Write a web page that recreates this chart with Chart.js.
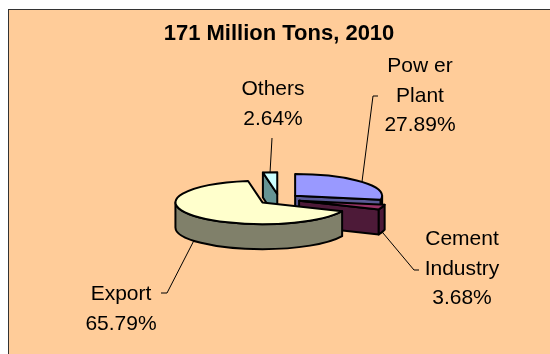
<!DOCTYPE html>
<html>
<head>
<meta charset="utf-8">
<script src="https://cdn.jsdelivr.net/npm/chart.js@4.4.1/dist/chart.umd.min.js"></script>
<style>
  html, body { margin: 0; padding: 0; background: #fff; overflow: hidden; }
  #frame { position: absolute; left: 8px; top: 9px; width: 600px; height: 400px; border: 1px solid #333; background: #FFCC99; }
  #pie { position: absolute; left: 0; top: 0; }
</style>
</head>
<body>
<div id="frame"></div>
<canvas id="pie" width="550" height="354"></canvas>
<script>
// data
const categories = ['Power Plant', 'Cement Industry', 'Export', 'Others'];
const labelLines = [['Pow er', 'Plant'], ['Cement', 'Industry'], ['Export'], ['Others']];
const shares = [27.89, 3.68, 65.79, 2.64];

// look
const topColors = ['#9999FF', '#993366', '#FFFFCC', '#CCFFFF'];
const sideColors = ['#5A5A96', '#4D1A38', '#80806A', '#669494'];
const tilt = 0.25, depth = 25, explode = 21;
const FONT = '"Liberation Sans", Arial, sans-serif';
// label block: center x, first baseline, leader elbow x/y, tick length
const labelSpots = [
  [420, 72, 373, 96, 5],
  [462, 245, 414, 270, 5],
  [121, 300, 167, 293, -6],
  [273, 95, 272, 138, 0]
];

function geom(arc) {
  const p = arc.getProps(['x', 'y', 'startAngle', 'endAngle', 'outerRadius']);
  const mid = (p.startAngle + p.endAngle) / 2;
  return {
    s: p.startAngle, e: p.endAngle, r: p.outerRadius, mid,
    vx: p.x + Math.cos(mid) * explode,
    vy: p.y + Math.sin(mid) * explode * tilt
  };
}
function rim(g, a, dy) {
  return [g.vx + Math.cos(a) * g.r, g.vy + Math.sin(a) * g.r * tilt + (dy || 0)];
}
function paint(ctx, fill) {
  ctx.closePath();
  ctx.fillStyle = fill;
  ctx.fill();
  ctx.stroke();
}
function radialFace(ctx, g, a, fill) {
  const p = rim(g, a);
  ctx.beginPath();
  ctx.moveTo(g.vx, g.vy);
  ctx.lineTo(p[0], p[1]);
  ctx.lineTo(p[0], p[1] + depth);
  ctx.lineTo(g.vx, g.vy + depth);
  paint(ctx, fill);
}

const pie3d = {
  id: 'pie3d',
  beforeDatasetsDraw(chart) {
    const ctx = chart.ctx;
    const arcs = chart.getDatasetMeta(0).data.map((el, i) => ({ i, g: geom(el) }));
    arcs.sort((a, b) => Math.sin(a.g.mid) - Math.sin(b.g.mid));
    ctx.save();
    ctx.lineWidth = 2;
    ctx.lineJoin = 'round';
    ctx.strokeStyle = '#000';
    arcs.forEach(({ i, g }) => {
      // cut faces that look toward us
      if (Math.cos(g.s) < -0.01) radialFace(ctx, g, g.s, sideColors[i]);
      if (Math.cos(g.e) > 0.01) radialFace(ctx, g, g.e, sideColors[i]);
      // front part of the rim
      const a0 = Math.max(g.s, 0), a1 = Math.min(g.e, Math.PI);
      if (a1 > a0) {
        ctx.beginPath();
        ctx.ellipse(g.vx, g.vy, g.r, g.r * tilt, 0, a0, a1);
        ctx.ellipse(g.vx, g.vy + depth, g.r, g.r * tilt, 0, a1, a0, true);
        paint(ctx, sideColors[i]);
      }
      // top
      ctx.beginPath();
      ctx.moveTo(g.vx, g.vy);
      ctx.ellipse(g.vx, g.vy, g.r, g.r * tilt, 0, g.s, g.e);
      paint(ctx, topColors[i]);
    });
    ctx.restore();
    return false;
  },
  afterDraw(chart) {
    const ctx = chart.ctx;
    ctx.save();
    chart.getDatasetMeta(0).data.forEach((el, i) => {
      const g = geom(el);
      const [lx, ly, ex, ey, tick] = labelSpots[i];
      const a = rim(g, g.mid, Math.sin(g.mid) > 0 ? depth : 0);
      ctx.beginPath();
      ctx.moveTo(a[0], a[1]);
      ctx.lineTo(ex, ey);
      if (tick) ctx.lineTo(ex + tick, ey);
      ctx.lineWidth = 1;
      ctx.strokeStyle = '#000';
      ctx.stroke();
      const lines = labelLines[i].concat(shares[i].toFixed(2) + '%');
      ctx.fillStyle = '#000';
      ctx.font = '21px ' + FONT;
      ctx.textAlign = 'center';
      ctx.textBaseline = 'alphabetic';
      lines.forEach((t, k) => ctx.fillText(t, lx, ly + k * 29.5));
    });
    ctx.restore();
  }
};

new Chart(document.getElementById('pie'), {
  type: 'pie',
  data: {
    labels: categories,
    datasets: [{ data: shares, backgroundColor: topColors, radius: 87 }]
  },
  options: {
    responsive: false,
    animation: false,
    layout: { padding: { left: 8, right: 0, top: 0, bottom: 13 } },
    plugins: {
      legend: { display: false },
      tooltip: { enabled: false },
      title: {
        display: true,
        text: '171 Million Tons, 2010',
        color: '#000',
        font: { family: FONT, size: 22, weight: 'bold' },
        padding: { top: 21, bottom: 10 }
      }
    }
  },
  plugins: [pie3d]
});
</script>
</body>
</html>
